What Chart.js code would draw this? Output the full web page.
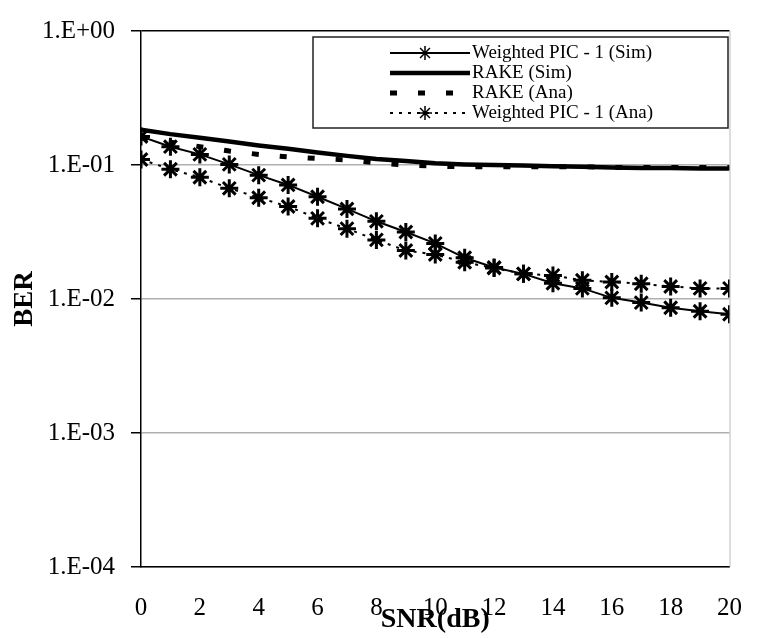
<!DOCTYPE html>
<html>
<head>
<meta charset="utf-8">
<script src="https://cdn.jsdelivr.net/npm/chart.js@4.4.1/dist/chart.umd.min.js"></script>
<style>
  html, body { margin: 0; padding: 0; background: #fff; }
  #wrap { width: 760px; height: 638px; }
</style>
</head>
<body>
<div id="wrap"><canvas id="berChart" width="760" height="638"></canvas></div>
<script>
// SNR points (dB)
const snr = [0, 1, 2, 3, 4, 5, 6, 7, 8, 9, 10, 11, 12, 13, 14, 15, 16, 17, 18, 19, 20];

// BER values
const picSim  = [0.163, 0.137, 0.12, 0.101, 0.084, 0.071, 0.058, 0.047, 0.038, 0.0316, 0.026,
                 0.0203, 0.0172, 0.0154, 0.0131, 0.012, 0.0102, 0.0094, 0.0086, 0.0081, 0.0077];
const rakeSim = [0.183, 0.17, 0.16, 0.15, 0.14, 0.132, 0.124, 0.117, 0.111, 0.107, 0.103,
                 0.101, 0.1, 0.099, 0.098, 0.097, 0.096, 0.095, 0.095, 0.094, 0.094];
const rakeAna = [0.16, 0.148, 0.137, 0.127, 0.12, 0.115, 0.112, 0.109, 0.104, 0.1, 0.098,
                 0.097, 0.097, 0.097, 0.097, 0.097, 0.096, 0.096, 0.096, 0.096, 0.096];
const picAna  = [0.11, 0.093, 0.081, 0.067, 0.057, 0.049, 0.040, 0.0335, 0.0276, 0.023, 0.0215,
                 0.0188, 0.017, 0.0154, 0.015, 0.0138, 0.0134, 0.013, 0.0124, 0.012, 0.012];

const seriesNames = ['Weighted PIC - 1 (Sim)', 'RAKE (Sim)', 'RAKE (Ana)', 'Weighted PIC - 1 (Ana)'];
const yTicks = [1e-4, 1e-3, 1e-2, 1e-1, 1];

const serif = "'Liberation Serif', 'Times New Roman', serif";

function toPoints(arr) {
    return snr.map((x, i) => ({ x: x, y: arr[i] }));
}

// "1.E-01" style labels
function expLabel(v) {
    const e = Math.round(Math.log10(v));
    const sign = e < 0 ? '-' : '+';
    return '1.E' + sign + String(Math.abs(e)).padStart(2, '0');
}

// legend drawn inside the plot, like the original
const boxLegend = {
    id: 'boxLegend',
    afterDraw(chart) {
        const ctx = chart.ctx;
        const left = 313, top = 37, right = 728, bottom = 128;
        ctx.save();
        ctx.fillStyle = '#fff';
        ctx.fillRect(left, top, right - left, bottom - top);
        ctx.strokeStyle = '#222';
        ctx.lineWidth = 1.5;
        ctx.strokeRect(left, top, right - left, bottom - top);

        chart.data.datasets.forEach((ds, i) => {
            const y = 53 + i * 20;
            ctx.save();
            ctx.strokeStyle = '#000';
            ctx.lineWidth = ds.borderWidth;
            ctx.setLineDash(ds.borderDash || []);
            ctx.beginPath();
            ctx.moveTo(390, y);
            ctx.lineTo(470, y);
            ctx.stroke();
            ctx.restore();
            if (ds.pointRadius > 0) {
                ctx.save();
                ctx.strokeStyle = '#000';
                ctx.setLineDash([]);
                Chart.helpers.drawPoint(ctx, {
                    pointStyle: ds.pointStyle,
                    radius: 7,
                    borderWidth: ds.pointBorderWidth,
                    rotation: 0
                }, 425, y);
                ctx.restore();
            }
            ctx.fillStyle = '#000';
            ctx.font = '19px ' + serif;
            ctx.textBaseline = 'middle';
            ctx.textAlign = 'left';
            ctx.fillText(ds.label, 472, y);
        });
        ctx.restore();
    }
};

// faint right edge of the plot area
const rightEdge = {
    id: 'rightEdge',
    beforeDatasetsDraw(chart) {
        const a = chart.chartArea;
        const ctx = chart.ctx;
        ctx.save();
        ctx.strokeStyle = '#bbb';
        ctx.lineWidth = 1;
        ctx.beginPath();
        ctx.moveTo(a.right + 0.5, a.top);
        ctx.lineTo(a.right + 0.5, a.bottom);
        ctx.stroke();
        ctx.restore();
    }
};

const ctx = document.getElementById('berChart').getContext('2d');
const berChart = new Chart(ctx, {
    type: 'line',
    data: {
        datasets: [
            {
                label: seriesNames[0],
                data: toPoints(picSim),
                borderColor: '#000',
                borderWidth: 2,
                pointStyle: 'star',
                pointRadius: 9,
                pointBorderWidth: 3,
                pointBorderColor: '#000',
                fill: false
            },
            {
                label: seriesNames[1],
                data: toPoints(rakeSim),
                borderColor: '#000',
                borderWidth: 4.5,
                pointRadius: 0,
                fill: false
            },
            {
                label: seriesNames[2],
                data: toPoints(rakeAna),
                borderColor: '#000',
                borderWidth: 5,
                borderDash: [7, 21],
                pointRadius: 0,
                fill: false
            },
            {
                label: seriesNames[3],
                data: toPoints(picAna),
                borderColor: '#000',
                borderWidth: 2,
                borderDash: [3, 6],
                pointStyle: 'star',
                pointRadius: 9,
                pointBorderWidth: 3,
                pointBorderColor: '#000',
                fill: false
            }
        ]
    },
    options: {
        responsive: false,
        animation: false,
        devicePixelRatio: 1,
        layout: { padding: { left: 0, top: 14, right: 19, bottom: 0 } },
        plugins: {
            legend: { display: false },
            tooltip: { enabled: false }
        },
        scales: {
            x: {
                type: 'linear',
                min: 0,
                max: 20,
                grid: { display: false },
                border: { display: true, color: '#000', width: 1.5 },
                ticks: {
                    stepSize: 2,
                    padding: 18,
                    color: '#000',
                    font: { family: serif, size: 25 }
                },
                title: {
                    display: true,
                    text: 'SNR(dB)',
                    color: '#000',
                    padding: { top: 0, bottom: 1 },
                    font: { family: serif, size: 28, weight: 'bold' }
                },
                afterFit(scale) { scale.height = 71; }
            },
            y: {
                type: 'logarithmic',
                min: 1e-4,
                max: 1,
                afterBuildTicks(scale) {
                    scale.ticks = yTicks.map(v => ({ value: v }));
                },
                grid: {
                    color: c => (c.tick && c.tick.value === 1 ? '#000' : '#b0b0b0'),
                    lineWidth: 1.5,
                    tickColor: '#000',
                    tickLength: 10
                },
                border: { display: true, color: '#000', width: 1.5 },
                ticks: {
                    padding: 16,
                    color: '#000',
                    font: { family: serif, size: 25 },
                    callback: v => expLabel(v)
                },
                title: {
                    display: true,
                    text: 'BER',
                    color: '#000',
                    padding: { top: 9, bottom: 0 },
                    font: { family: serif, size: 27, weight: 'bold' }
                },
                afterFit(scale) { scale.width = 141; }
            }
        }
    },
    plugins: [rightEdge, boxLegend]
});
</script>
</body>
</html>
